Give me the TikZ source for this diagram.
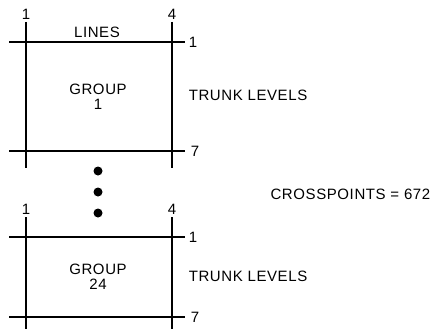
\documentclass[tikz,border=0pt]{standalone}
\usepackage{fontspec}
\setmainfont{Liberation Sans}[LetterSpace=4]
\usetikzlibrary{positioning}

\begin{document}
\begin{tikzpicture}[x=1pt,y=-1pt, line width=1.5pt,
  lbl/.style={inner sep=0pt,font=\fontsize{15}{17}\selectfont},
  dot/.style={circle,fill=black,inner sep=0pt,minimum size=9pt}]
\useasboundingbox (0,0) rectangle (434,329);
\clip (0,0) rectangle (434,329);
% two switching groups
\foreach \t/\b/\g/\n in {42/151/1/top, 237/317/24/bot}{
  \coordinate (\n-l) at (26,\t-20);
  \coordinate (\n-r) at (172,\t-20);
  \draw (\n-l) -- (26,\b+17);
  \draw (\n-r) -- (172,\b+17);
  \draw (9,\t) -- (185,\t);
  \draw (9,\b) -- (185,\b);
  \node[lbl,above=2pt of \n-l] {1};
  \node[lbl,above=2pt of \n-r] {4};
  \node[lbl,anchor=west] at (188,\t) {1};
  \node[lbl,anchor=west] at (190,\b) {7};
  \node[lbl,align=center] (\n-grp) at (98,{(\t+\b)/2}) {GROUP\\[-2pt]\g};
  \node[lbl,anchor=west] (\n-tl) at (188,{(\t+\b)/2-1}) {TRUNK LEVELS};
}
\node[lbl] (lines) at (97,32) {LINES};
\node[dot] (d1) at (98,171) {};
\node[dot] (d2) at (98,192) {};
\node[dot] (d3) at (98,213) {};
\node[lbl,anchor=east] (xp) at (431,194) {CROSSPOINTS = 672};
\end{tikzpicture}
\end{document}
